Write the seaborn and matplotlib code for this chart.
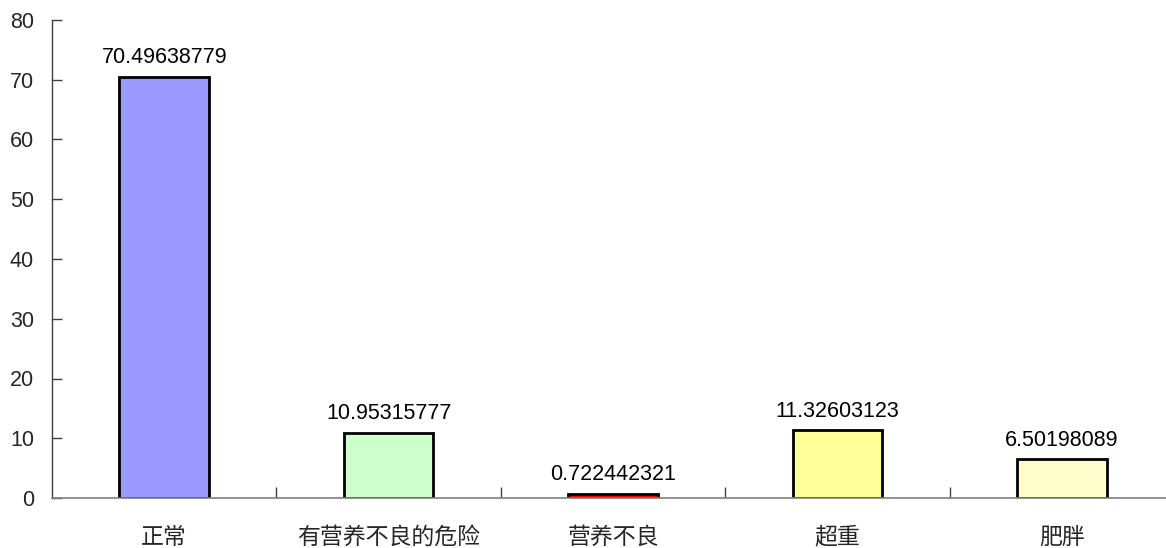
import matplotlib
matplotlib.use("Agg")
import matplotlib.pyplot as plt
import seaborn as sns
import pandas as pd

categories = ["正常", "有营养不良的危险", "营养不良", "超重", "肥胖"]
values = [70.49638779, 10.95315777, 0.722442321, 11.32603123, 6.50198089]
label_texts = ["70.49638779", "10.95315777", "0.722442321", "11.32603123", "6.50198089"]
colors = ["#9999FF", "#CCFFCC", "#FF0000", "#FFFF99", "#FFFFCC"]

sns.set_theme(style="white")
plt.rcParams['font.family'] = ['Noto Sans CJK SC', 'DejaVu Sans']
num_font = ['Liberation Sans', 'DejaVu Sans']

df = pd.DataFrame({"cat": categories, "val": values})

fig = plt.figure(figsize=(11.66, 5.48), dpi=100)
W, H = 1166, 548
ax = fig.add_axes([52 / W, 50 / H, 1122 / W, 478 / H])

sns.barplot(data=df, x="cat", y="val", hue="cat", palette=colors, legend=False,
            width=0.4, edgecolor="black", linewidth=2, saturation=1, ax=ax)

ax.set_xlim(-0.5, 4.5)
ax.set_ylim(0, 80)
ax.set_yticks(range(0, 81, 10))
ax.set_xlabel("")
ax.set_ylabel("")

for i, (v, t) in enumerate(zip(values, label_texts)):
    ax.annotate(t, (i, v), xytext=(0, 6), textcoords="offset points",
                ha="center", va="bottom", fontsize=15.5, color="black",
                family=num_font)

for s in ["top", "right"]:
    ax.spines[s].set_visible(False)
ax.spines["left"].set_color("#404040")
ax.spines["bottom"].set_color("#808080")
ax.spines["left"].set_linewidth(1)
ax.spines["bottom"].set_linewidth(1.2)

ax.tick_params(axis="y", direction="in", length=7, width=1, color="#404040",
               labelsize=15.5, pad=13, left=True)
for lab in ax.get_yticklabels():
    lab.set_family(num_font)
ax.set_xticks([0.5, 1.5, 2.5, 3.5], minor=True)
ax.tick_params(axis="x", which="minor", direction="in", length=8, width=1,
               color="#404040", bottom=True)
ax.tick_params(axis="x", which="major", length=0, labelsize=16.5, pad=20)
ax.grid(False)

fig.savefig("out.png", dpi=100)
